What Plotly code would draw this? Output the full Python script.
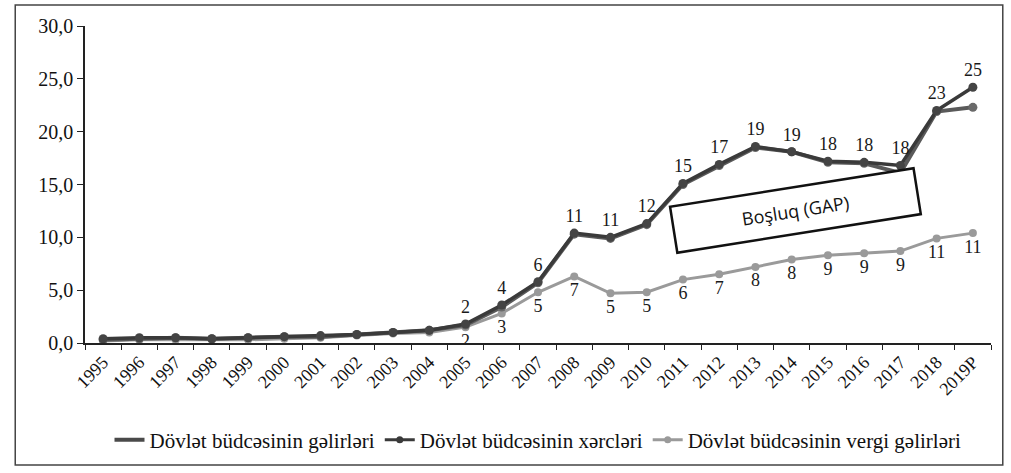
import plotly.graph_objects as go

years = ["1995", "1996", "1997", "1998", "1999", "2000", "2001", "2002", "2003", "2004",
         "2005", "2006", "2007", "2008", "2009", "2010", "2011", "2012", "2013", "2014",
         "2015", "2016", "2017", "2018", "2019P"]
revenues = [0.3, 0.4, 0.5, 0.4, 0.5, 0.6, 0.6, 0.8, 1.0, 1.2,
            1.7, 3.4, 5.7, 10.3, 9.9, 11.2, 15.0, 16.8, 18.5, 18.1,
            17.1, 17.0, 16.1, 21.9, 22.3]
expenses = [0.4, 0.5, 0.5, 0.4, 0.5, 0.6, 0.7, 0.8, 1.0, 1.2,
            1.8, 3.6, 5.8, 10.4, 10.0, 11.3, 15.1, 16.9, 18.6, 18.1,
            17.2, 17.1, 16.8, 22.0, 24.2]
tax_revenues = [0.2, 0.3, 0.3, 0.3, 0.3, 0.4, 0.5, 0.7, 0.9, 1.0,
                1.5, 2.8, 4.8, 6.3, 4.7, 4.8, 6.0, 6.5, 7.2, 7.9,
                8.3, 8.5, 8.7, 9.9, 10.4]
expense_labels = [""] * 10 + ["2", "4", "6", "11", "11", "12", "15", "17", "19", "19",
                              "18", "18", "18", "23", "25"]
tax_labels = [""] * 10 + ["2", "3", "5", "7", "5", "5", "6", "7", "8", "8",
                          "9", "9", "9", "11", "11"]
names = ["Dövlət büdcəsinin gəlirləri", "Dövlət büdcəsinin xərcləri",
         "Dövlət büdcəsinin vergi gəlirləri"]

serif = "Liberation Serif"
fig = go.Figure()

fig.add_trace(go.Scatter(
    x=years, y=tax_revenues, mode="lines+markers+text", name=names[2],
    line=dict(color="#9a9a9a", width=3), marker=dict(color="#9a9a9a", size=8),
    text=tax_labels, textposition="bottom center",
    textfont=dict(family=serif, size=18, color="#1a1a1a"), showlegend=False))
fig.add_trace(go.Scatter(
    x=years, y=revenues, mode="lines+markers", name=names[0],
    line=dict(color="#5a5a5a", width=4), marker=dict(color="#6a6a6a", size=9),
    showlegend=False))
fig.add_trace(go.Scatter(
    x=years, y=expenses, mode="lines+markers+text", name=names[1],
    line=dict(color="#3a3a3a", width=3.5), marker=dict(color="#444444", size=9),
    text=expense_labels, textposition="top center",
    textfont=dict(family=serif, size=18, color="#1a1a1a"), showlegend=False))

# legend entries
fig.add_trace(go.Scatter(x=[None], y=[None], mode="lines", name=names[0],
                         line=dict(color="#4a4a4a", width=4)))
fig.add_trace(go.Scatter(x=[None], y=[None], mode="lines+markers", name=names[1],
                         line=dict(color="#3a3a3a", width=3), marker=dict(color="#3a3a3a", size=7)))
fig.add_trace(go.Scatter(x=[None], y=[None], mode="lines+markers", name=names[2],
                         line=dict(color="#9a9a9a", width=3), marker=dict(color="#9a9a9a", size=7)))

fig.add_annotation(
    x=19.1, y=12.5, xref="x", yref="y", text="Boşluq (GAP)", showarrow=False,
    textangle=-9, width=242, height=42, bordercolor="#111111", borderwidth=2.5,
    bgcolor="white", font=dict(family="Open Sans", size=18, color="#111111"))

fig.add_shape(type="rect", xref="paper", yref="paper",
              x0=-0.077, x1=1.013, y0=-0.385, y1=1.066,
              line=dict(color="#444444", width=1.5))

fig.update_layout(
    width=1011, height=473,
    margin=dict(l=85, r=20, t=26, b=130),
    paper_bgcolor="white", plot_bgcolor="white",
    separators=", ",
    font=dict(family=serif, color="#111111"),
    legend=dict(orientation="h", x=0.5, xanchor="center", y=-0.306, yanchor="middle",
                font=dict(family=serif, size=21, color="#111111"),
                itemwidth=30, traceorder="normal"),
    xaxis=dict(type="category", range=[-0.5, 24.5], showline=True, linecolor="#222222",
               linewidth=1.5, ticks="outside", tickson="boundaries", ticklen=5,
               tickcolor="#222222", tickangle=-45, showgrid=False,
               tickfont=dict(family=serif, size=18, color="#111111")),
    yaxis=dict(range=[0, 30], dtick=5, tickformat=".1f", showline=True,
               linecolor="#222222", linewidth=1.5, ticks="outside", ticklen=6,
               tickcolor="#222222", showgrid=False, zeroline=False,
               tickfont=dict(family=serif, size=20, color="#111111")),
)

fig.write_html("out.html", config={"displayModeBar": False},
               post_script="document.body.style.margin='0';")
